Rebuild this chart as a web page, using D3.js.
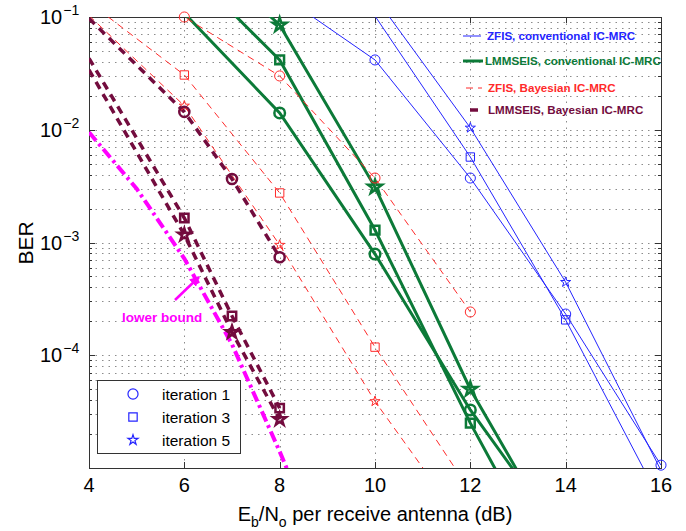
<!DOCTYPE html>
<html>
<head>
<meta charset="utf-8">
<script src="https://cdn.jsdelivr.net/npm/d3@7"></script>
<style>
  body { margin: 0; background: #fff; }
  svg { display: block; font-family: Arial, "Liberation Sans", sans-serif; }
</style>
</head>
<body>
<script>
// x values (Eb/No in dB) per curve, and BER
var snrZF = [8, 10, 12, 14, 16];
var zfConv1 = [0.16, 0.0416, 3.73e-3, 2.32e-4, 1.06e-5];
var snrZF35 = [10, 12, 14, 16];
var zfConv3 = [0.102, 5.73e-3, 2.06e-4, 5e-6];
var zfConv5 = [0.15, 0.0104, 4.45e-4, 9.5e-6];

var snrLM = [6, 8, 10, 12, 14];
var lmConv1 = [0.108, 0.0141, 7.9e-4, 3.27e-5, 2.2e-6];
var lmConv3 = [0.29, 0.0416, 1.29e-3, 2.5e-5, 7e-7];
var lmConv5 = [0.5, 0.085, 3.1e-3, 5.0e-5, 1.7e-6];

var snrZFB = [4, 6, 8, 10, 12];
var zfBay1 = [0.25, 0.1, 0.030, 3.73e-3, 2.42e-4];
var zfBay3 = [0.135, 0.0306, 2.75e-3, 1.18e-4, 6.2e-6];
var zfBay5 = [0.103, 0.0163, 9.5e-4, 3.9e-5, 2.6e-6];

var snrLMB = [4, 6, 7, 8];
var lmBay1 = [0.097, 0.0144, 3.66e-3, 7.4e-4];
var lmBay3 = [0.043, 1.65e-3, 2.23e-4, 3.4e-5];
var lmBay5 = [0.034, 1.17e-3, 1.6e-4, 2.7e-5];

var snrBound = [4, 5, 6, 7, 8, 9];
var lowerBound = [9.5e-3, 3.0e-3, 7.2e-4, 1.25e-4, 1.4e-5, 1.4e-6];

var xTicks = [4, 6, 8, 10, 12, 14, 16];
var yTicks = [1e-1, 1e-2, 1e-3, 1e-4];
var yExps = ["\u22121", "\u22122", "\u22123", "\u22124"];
var legendNames = ["ZFIS, conventional IC-MRC", "LMMSEIS, conventional IC-MRC",
                   "ZFIS, Bayesian IC-MRC", "LMMSEIS, Bayesian IC-MRC"];
var iterNames = ["iteration 1", "iteration 3", "iteration 5"];

var width = 686, height = 531;
var mLeft = 89, mRight = 661, mTop = 17, mBottom = 468;

var colBlue = "#2424ff", colGreen = "#0c7a38", colRed = "#ff2a2a",
    colMaroon = "#730c3e", colMag = "#ff00ff";

var svg = d3.select("body").append("svg")
    .attr("width", width)
    .attr("height", height);

svg.append("rect").attr("width", width).attr("height", height).attr("fill", "#fff");

var x = d3.scaleLinear().domain([4, 16]).range([mLeft, mRight]);
var y = d3.scaleLog().domain([1e-5, 1e-1]).range([mBottom, mTop]);

// grid (dotted), major and minor decades
var minorY = [];
for (var e = -5; e < -1; e++) {
    for (var m = 1; m < 10; m++) minorY.push(m * Math.pow(10, e));
}
minorY.push(0.1);

var grid = svg.append("g").attr("stroke", "#8c8c8c").attr("stroke-width", 1)
    .attr("stroke-dasharray", "1.5,5");
grid.selectAll(".gy").data(minorY.filter(function(v) { return v > 1e-5 && v < 0.1; }))
    .enter().append("line")
    .attr("x1", mLeft).attr("x2", mRight)
    .attr("y1", function(d) { return Math.round(y(d)) + 0.5; })
    .attr("y2", function(d) { return Math.round(y(d)) + 0.5; });
grid.selectAll(".gx").data(xTicks.slice(1, -1))
    .enter().append("line")
    .attr("y1", mTop).attr("y2", mBottom)
    .attr("x1", function(d) { return Math.round(x(d)) + 0.5; })
    .attr("x2", function(d) { return Math.round(x(d)) + 0.5; });

// ticks inside the box
var ticks = svg.append("g").attr("stroke", "#333").attr("stroke-width", 1);
minorY.forEach(function(v) {
    var lg = Math.log10(v);
    var major = Math.abs(lg - Math.round(lg)) < 1e-9;
    var len = major ? 6 : 3;
    var yy = Math.round(y(v)) + 0.5;
    ticks.append("line").attr("x1", mLeft).attr("x2", mLeft + len).attr("y1", yy).attr("y2", yy);
    ticks.append("line").attr("x1", mRight - len).attr("x2", mRight).attr("y1", yy).attr("y2", yy);
});
xTicks.forEach(function(v) {
    var xx = Math.round(x(v)) + 0.5;
    ticks.append("line").attr("x1", xx).attr("x2", xx).attr("y1", mBottom).attr("y2", mBottom - 6);
    ticks.append("line").attr("x1", xx).attr("x2", xx).attr("y1", mTop).attr("y2", mTop + 6);
});

// box
svg.append("rect")
    .attr("x", mLeft + 0.5).attr("y", mTop + 0.5)
    .attr("width", mRight - mLeft).attr("height", mBottom - mTop)
    .attr("fill", "none").attr("stroke", "#333");

// tick labels
svg.selectAll(".xl").data(xTicks).enter().append("text")
    .attr("x", function(d) { return x(d); })
    .attr("y", 492)
    .attr("text-anchor", "middle")
    .attr("font-size", 20)
    .text(function(d) { return d; });

var yl = svg.selectAll(".yl").data(yTicks).enter().append("text")
    .attr("x", 40)
    .attr("y", function(d) { return y(d) + 7; })
    .attr("font-size", 20);
yl.append("tspan").text("10");
yl.append("tspan").attr("font-size", 14).attr("dy", -9).attr("dx", 1)
    .text(function(d, i) { return yExps[i]; });

// axis titles
svg.append("text")
    .attr("transform", "translate(33,243) rotate(-90)")
    .attr("text-anchor", "middle")
    .attr("font-size", 21)
    .text("BER");

var xt = svg.append("text")
    .attr("x", 375).attr("y", 521)
    .attr("text-anchor", "middle")
    .attr("font-size", 20);
xt.append("tspan").text("E");
xt.append("tspan").attr("font-size", 14).attr("dy", 6).text("b");
xt.append("tspan").attr("dy", -6).text("/N");
xt.append("tspan").attr("font-size", 14).attr("dy", 6).text("o");
xt.append("tspan").attr("dy", -6).text(" per receive antenna (dB)");

// clip to plot area
svg.append("clipPath").attr("id", "clip").append("rect")
    .attr("x", mLeft).attr("y", mTop).attr("width", mRight - mLeft).attr("height", mBottom - mTop);
var plot = svg.append("g").attr("clip-path", "url(#clip)");

var line = d3.line()
    .x(function(d) { return x(d[0]); })
    .y(function(d) { return y(d[1]); });

function pairs(xs, ys) {
    return xs.map(function(v, i) { return [v, ys[i]]; });
}

// mFrom: first x that carries a marker
var series = [
    { xs: snrZF, ys: zfConv1, color: colBlue, w: 1, dash: null, mk: "circle", mw: 1, ms: 1, mFrom: 6 },
    { xs: snrZF35, ys: zfConv3, color: colBlue, w: 1, dash: null, mk: "square", mw: 1, ms: 1, mFrom: 6 },
    { xs: snrZF35, ys: zfConv5, color: colBlue, w: 1, dash: null, mk: "star", mw: 1, ms: 1, mFrom: 6 },
    { xs: snrLM, ys: lmConv1, color: colGreen, w: 3, dash: null, mk: "circle", mw: 2.5, ms: 1.1, mFrom: 6 },
    { xs: snrLM, ys: lmConv3, color: colGreen, w: 3, dash: null, mk: "square", mw: 2.5, ms: 1.1, mFrom: 6 },
    { xs: snrLM, ys: lmConv5, color: colGreen, w: 3, dash: null, mk: "star", mw: 2.5, ms: 1.9, mFrom: 6 },
    { xs: snrZFB, ys: zfBay1, color: colRed, w: 1, dash: "7,5", mk: "circle", mw: 1, ms: 1, mFrom: 6 },
    { xs: snrZFB, ys: zfBay3, color: colRed, w: 1, dash: "7,5", mk: "square", mw: 1, ms: 1, mFrom: 6 },
    { xs: snrZFB, ys: zfBay5, color: colRed, w: 1, dash: "7,5", mk: "star", mw: 1, ms: 1, mFrom: 6 },
    { xs: snrLMB, ys: lmBay1, color: colMaroon, w: 3.5, dash: "8,6", mk: "circle", mw: 2.5, ms: 1, mFrom: 6 },
    { xs: snrLMB, ys: lmBay3, color: colMaroon, w: 3.5, dash: "8,6", mk: "square", mw: 2.5, ms: 1, mFrom: 6 },
    { xs: snrLMB, ys: lmBay5, color: colMaroon, w: 3.5, dash: "8,6", mk: "star", mw: 2.5, ms: 1.5, mFrom: 6 }
];

function markerPath(kind, scale) {
    if (kind === "circle") return d3.symbol().type(d3.symbolCircle).size(80 * scale)();
    if (kind === "square") return d3.symbol().type(d3.symbolSquare).size(70 * scale)();
    return d3.symbol().type(d3.symbolStar).size(32 * scale)();
}

// lower bound
plot.append("path")
    .datum(pairs(snrBound, lowerBound))
    .attr("d", line)
    .attr("fill", "none")
    .attr("stroke", colMag)
    .attr("stroke-width", 4)
    .attr("stroke-dasharray", "11,4,3,4");

series.forEach(function(s) {
    plot.append("path")
        .datum(pairs(s.xs, s.ys))
        .attr("d", line)
        .attr("fill", "none")
        .attr("stroke", s.color)
        .attr("stroke-width", s.w)
        .attr("stroke-dasharray", s.dash);
});

series.forEach(function(s) {
    var pts = pairs(s.xs, s.ys).filter(function(d) {
        return d[0] >= s.mFrom && d[1] >= 1e-5 && d[1] <= 0.1;
    });
    svg.append("g").selectAll("path").data(pts).enter().append("path")
        .attr("transform", function(d) { return "translate(" + x(d[0]) + "," + y(d[1]) + ")"; })
        .attr("d", markerPath(s.mk, s.ms))
        .attr("fill", "none")
        .attr("stroke", s.color)
        .attr("stroke-width", s.mw);
});

// legend top right (no box)
var leg = svg.append("g").attr("font-weight", "bold").attr("font-size", 11.6);
var legY = [36, 61, 88, 110];
var legCol = [colBlue, colGreen, colRed, colMaroon];
leg.append("line").attr("x1", 463).attr("x2", 481).attr("y1", legY[0]).attr("y2", legY[0])
    .attr("stroke", colBlue).attr("stroke-width", 1);
leg.append("line").attr("x1", 463).attr("x2", 483).attr("y1", legY[1]).attr("y2", legY[1])
    .attr("stroke", colGreen).attr("stroke-width", 3);
leg.append("line").attr("x1", 466).attr("x2", 482).attr("y1", legY[2]).attr("y2", legY[2])
    .attr("stroke", colRed).attr("stroke-width", 1).attr("stroke-dasharray", "7,5");
leg.append("line").attr("x1", 470).attr("x2", 478).attr("y1", legY[3]).attr("y2", legY[3])
    .attr("stroke", colMaroon).attr("stroke-width", 3.5);
leg.selectAll("text").data(legendNames).enter().append("text")
    .attr("x", function(d, i) { return i === 1 ? 485 : (i === 0 ? 487 : 488); })
    .attr("y", function(d, i) { return legY[i] + 4; })
    .attr("fill", function(d, i) { return legCol[i]; })
    .text(function(d) { return d; });

// legend bottom left (markers)
var leg2 = svg.append("g");
leg2.append("rect").attr("x", 97.5).attr("y", 380.5).attr("width", 143).attr("height", 73)
    .attr("fill", "#fff").attr("stroke", "#333");
var iterKinds = ["circle", "square", "star"];
var iterY = [394, 417, 440];
iterKinds.forEach(function(k, i) {
    leg2.append("path")
        .attr("transform", "translate(133," + iterY[i] + ")")
        .attr("d", markerPath(k, 1))
        .attr("fill", "none").attr("stroke", colBlue).attr("stroke-width", 1.2);
    leg2.append("text").attr("x", 162).attr("y", iterY[i] + 6)
        .attr("font-size", 15.5).text(iterNames[i]);
});

// lower bound annotation
svg.append("defs").append("marker").attr("id", "arr")
    .attr("viewBox", "0 0 10 10").attr("refX", 9).attr("refY", 5)
    .attr("markerWidth", 4).attr("markerHeight", 4).attr("orient", "auto")
    .append("path").attr("d", "M0,0L10,5L0,10z").attr("fill", colMag);
svg.append("line").attr("x1", 175).attr("y1", 300).attr("x2", 199).attr("y2", 277)
    .attr("stroke", colMag).attr("stroke-width", 2.5).attr("marker-end", "url(#arr)");
svg.append("text").attr("x", 122).attr("y", 322)
    .attr("fill", colMag).attr("font-weight", "bold").attr("font-size", 13.5)
    .text("lower bound");
</script>
</body>
</html>
